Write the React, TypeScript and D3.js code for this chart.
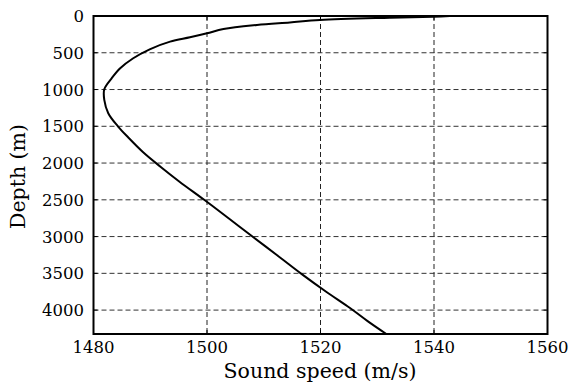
import React from "react";
import * as d3 from "d3";

// Sound speed profile: depth (m) and sound speed (m/s)
const depths = [0, 9, 23, 54, 87, 122, 177, 235, 290, 349, 453, 575, 711, 847, 996, 1141, 1322, 1500, 1650, 1850, 2050, 2250, 2500, 2750, 2976, 3250, 3510, 3750, 3972, 4150, 4325];
const speeds = [1542.8, 1539.9, 1532.2, 1519.9, 1514.6, 1508.8, 1502.9, 1500, 1497.0, 1493.5, 1489.9, 1487.0, 1484.7, 1483.2, 1481.9, 1481.9, 1482.6, 1484.3, 1486.1, 1488.7, 1491.8, 1495.1, 1499.5, 1503.8, 1507.6, 1512.3, 1516.7, 1521.0, 1525.2, 1528.3, 1531.6];

const xTicks = [1480, 1500, 1520, 1540, 1560];
const yTicks = [0, 500, 1000, 1500, 2000, 2500, 3000, 3500, 4000];

const W = 571;
const H = 382;
const margin = { left: 93.5, right: 23.5, top: 16, bottom: 48 };
const FONT = "'DejaVu Serif', serif";

export default function App() {
  const x = d3.scaleLinear().domain([1480, 1560]).range([margin.left, W - margin.right]);
  const y = d3.scaleLinear().domain([0, 4325]).range([margin.top, H - margin.bottom]);

  const pts: [number, number][] = depths.map((d, i) => [speeds[i], d]);
  const line = d3
    .line<[number, number]>()
    .x((p) => x(p[0]))
    .y((p) => y(p[1]))
    .curve(d3.curveCatmullRom.alpha(0.5));

  const x0 = x.range()[0];
  const x1 = x.range()[1];
  const y0 = y.range()[0];
  const y1 = y.range()[1];

  return (
    <svg width={W} height={H} style={{ position: "absolute", left: 0, top: 0, background: "#fff" }}>
      <rect x={0} y={0} width={W} height={H} fill="#fff" />
      {/* grid */}
      {xTicks.slice(1, -1).map((t) => (
        <line key={"gx" + t} x1={x(t)} x2={x(t)} y1={y0} y2={y1} stroke="#222" strokeWidth={1} strokeDasharray="5,3" />
      ))}
      {yTicks.slice(1).map((t) => (
        <line key={"gy" + t} x1={x0} x2={x1} y1={y(t)} y2={y(t)} stroke="#333" strokeWidth={1} strokeDasharray="5,3" />
      ))}
      {/* inner tick marks */}
      {xTicks.map((t) => (
        <g key={"tx" + t}>
          <line x1={x(t)} x2={x(t)} y1={y1} y2={y1 - 4} stroke="#000" />
          <line x1={x(t)} x2={x(t)} y1={y0} y2={y0 + 4} stroke="#000" />
        </g>
      ))}
      {yTicks.map((t) => (
        <g key={"ty" + t}>
          <line x1={x0} x2={x0 + 4} y1={y(t)} y2={y(t)} stroke="#000" />
          <line x1={x1} x2={x1 - 4} y1={y(t)} y2={y(t)} stroke="#000" />
        </g>
      ))}
      {/* profile */}
      <path d={line(pts) || ""} fill="none" stroke="#000" strokeWidth={2} />
      {/* frame */}
      <rect x={x0} y={y0} width={x1 - x0} height={y1 - y0} fill="none" stroke="#000" strokeWidth={2} />
      {/* tick labels */}
      {xTicks.map((t) => (
        <text key={"lx" + t} x={x(t)} y={353} textAnchor="middle" fontFamily={FONT} fontSize={16.5}>
          {t}
        </text>
      ))}
      {yTicks.map((t) => (
        <text key={"ly" + t} x={84} y={y(t) + 6} textAnchor="end" fontFamily={FONT} fontSize={16.5}>
          {t}
        </text>
      ))}
      <text x={320} y={378} textAnchor="middle" fontFamily={FONT} fontSize={20.5}>
        Sound speed (m/s)
      </text>
      <text
        transform={`translate(25,176.5) rotate(-90)`}
        textAnchor="middle"
        fontFamily={FONT}
        fontSize={20.5}
      >
        Depth (m)
      </text>
    </svg>
  );
}
